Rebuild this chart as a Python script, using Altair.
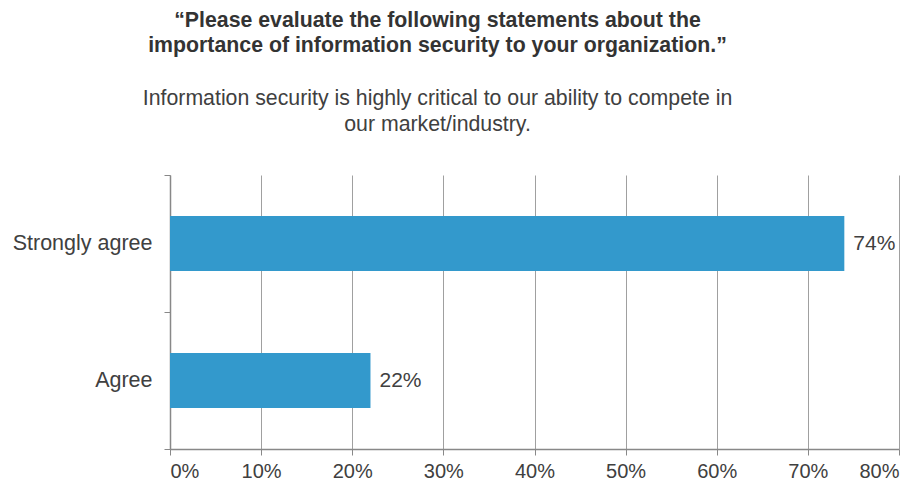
import altair as alt
import pandas as pd

categories = ["Strongly agree", "Agree"]
values = [0.74, 0.22]
labels = ["74%", "22%"]

df = pd.DataFrame({"category": categories, "value": values, "label": labels})

FONT = "Liberation Sans"
TEXT = "#404040"
GRID = "#a0a0a0"

y_enc = alt.Y("category:N", sort=categories, title=None,
              scale=alt.Scale(paddingInner=0, paddingOuter=0),
              axis=alt.Axis(tickBand="extent", labelFontSize=21.5, labelFont=FONT,
                            labelColor=TEXT, labelPadding=12, tickSize=6,
                            tickColor="#888888", domainColor="#888888",
                            grid=False, domainWidth=1.5))
x_enc = alt.X("value:Q", title=None,
              scale=alt.Scale(domain=[0, 0.8], nice=False),
              axis=alt.Axis(format=".0%", values=[0, .1, .2, .3, .4, .5, .6, .7, .8],
                            labelFontSize=20, labelFont=FONT, labelColor=TEXT,
                            tickSize=6, tickColor="#888888", domainColor="#888888",
                            domainWidth=1.5, grid=True, gridColor=GRID, gridWidth=1,
                            labelPadding=6))

bars = alt.Chart(df).mark_bar(color="#3399cc", height={"band": 0.4}).encode(x=x_enc, y=y_enc)
text = alt.Chart(df).mark_text(align="left", dx=9, fontSize=21, font=FONT, color=TEXT).encode(
    x="value:Q", y=alt.Y("category:N", sort=categories), text="label:N")

chart = alt.layer(bars, text).properties(
    width=729, height=274,
    autosize=alt.AutoSizeParams(type="none"),
    padding={"left": 170, "top": 175, "right": 25, "bottom": 36},
    title=alt.TitleParams(
        text=["\u201cPlease evaluate the following statements about the",
              "importance of information security to your organization.\u201d"],
        subtitle=["Information security is highly critical to our ability to compete in",
                  "our market/industry."],
        font=FONT, fontSize=21.3, fontWeight="bold", color="#333333", lineHeight=25,
        subtitleFont=FONT, subtitleFontSize=21.3, subtitleColor=TEXT, subtitleLineHeight=26,
        subtitlePadding=31, anchor="middle", dx=-97, offset=29),
).configure_view(stroke=None)

chart.save("out.html", embed_options={"renderer": "svg", "actions": False})
